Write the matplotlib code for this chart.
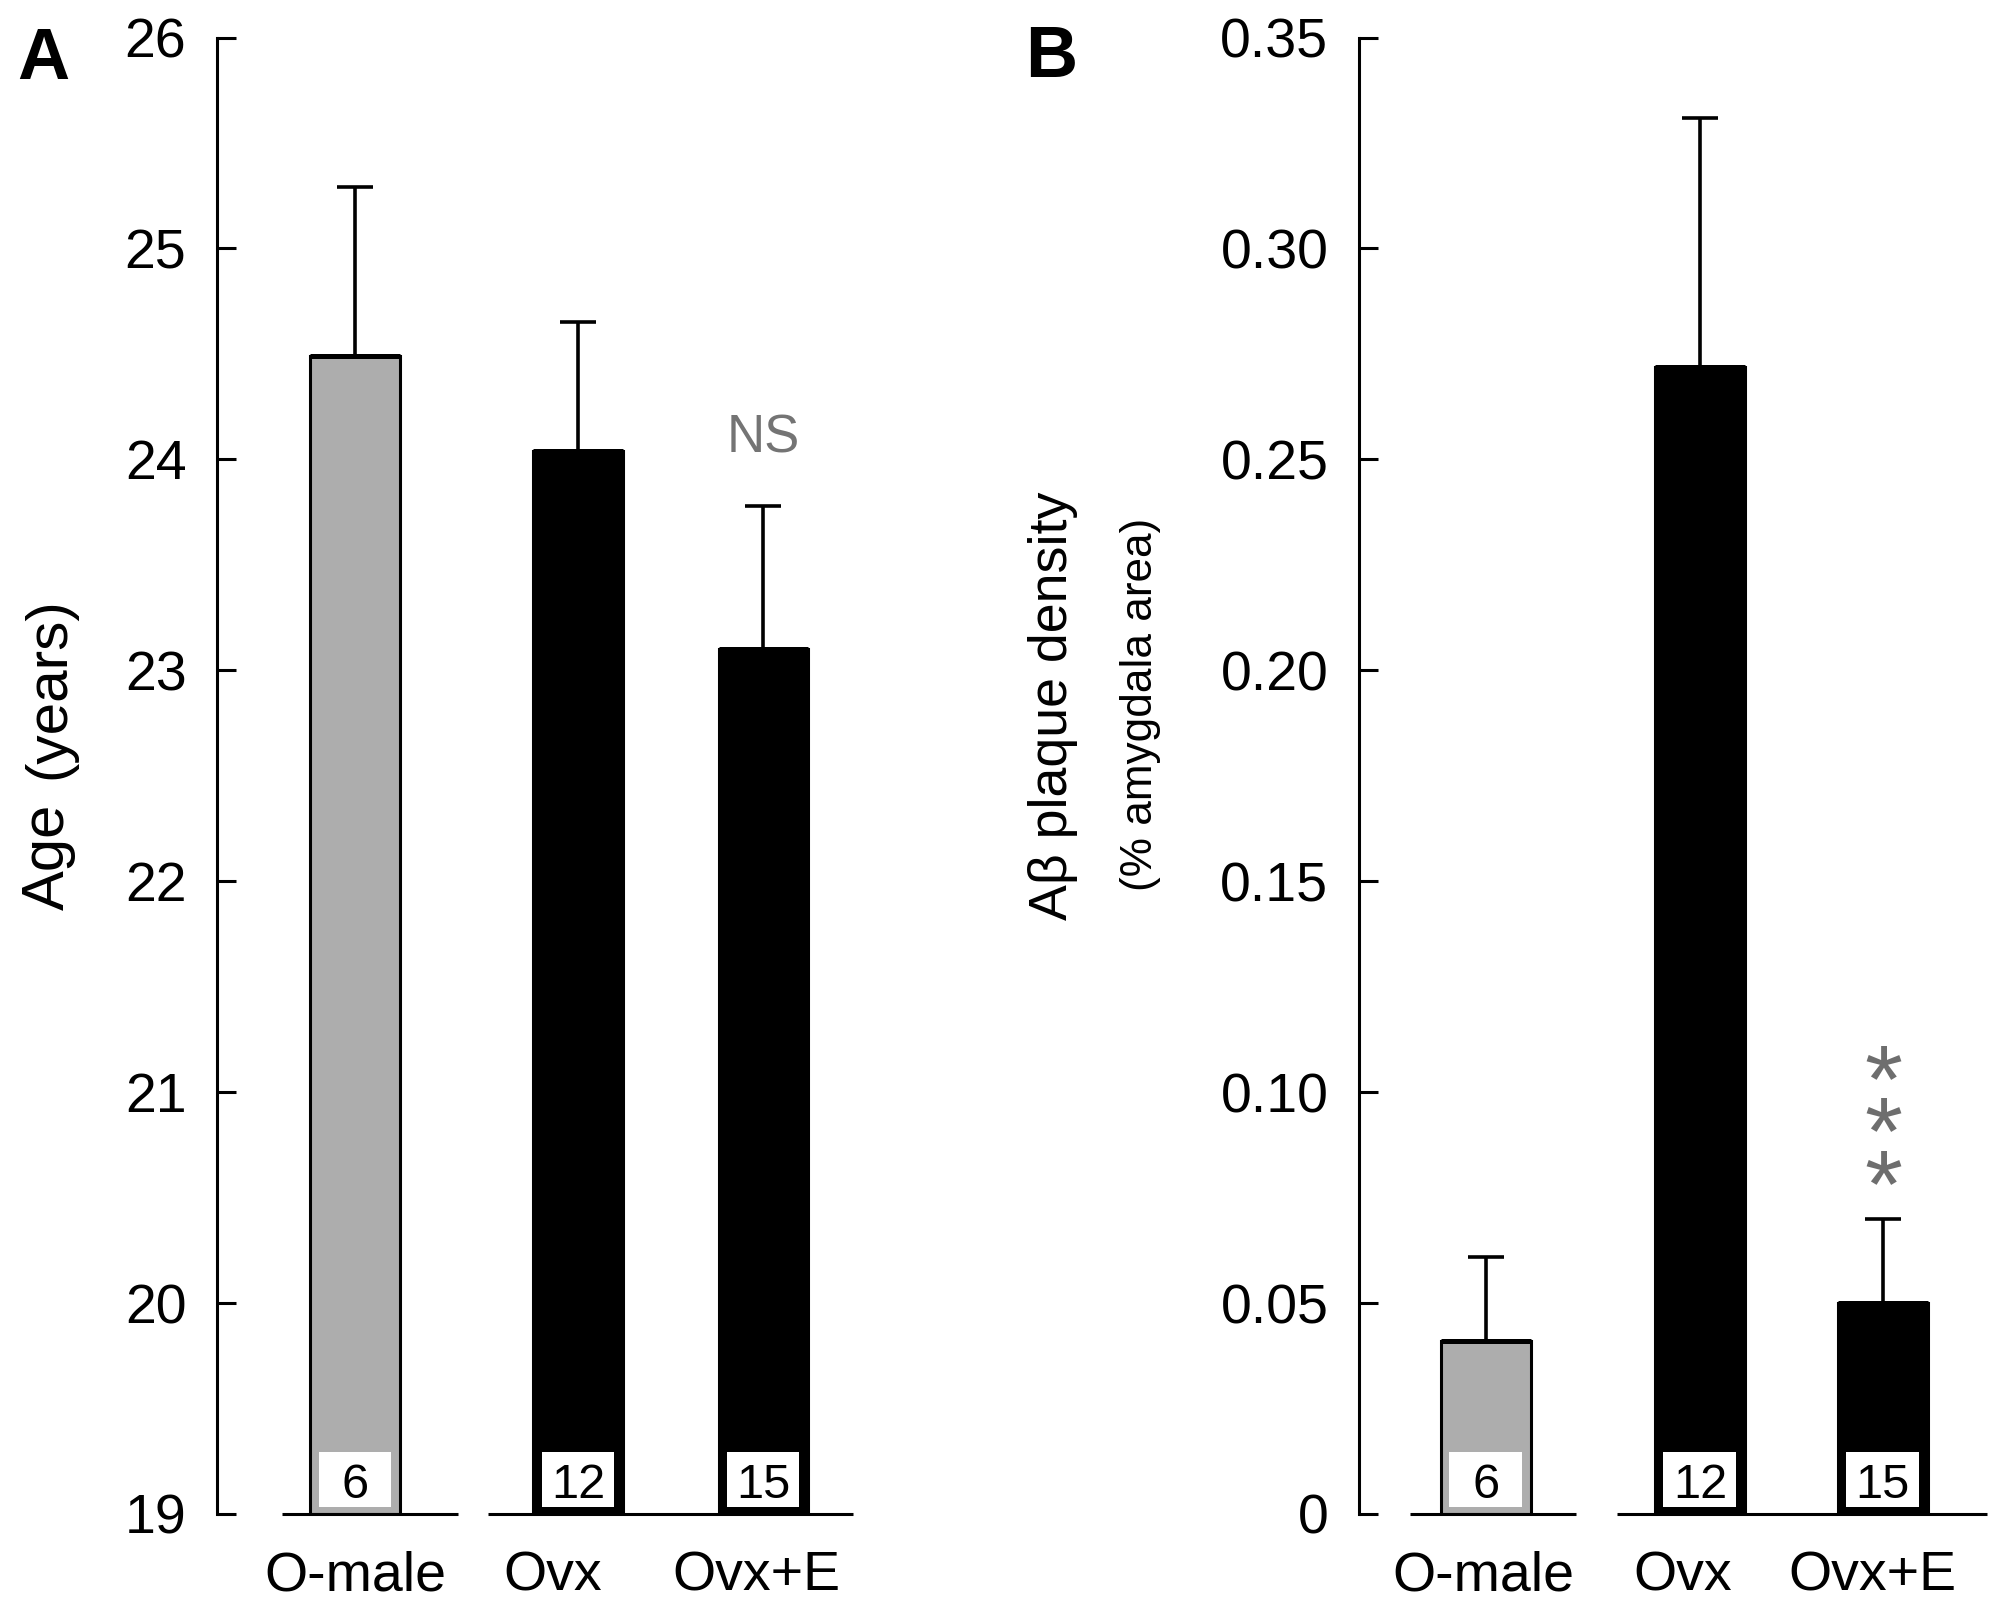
import matplotlib
matplotlib.use('Agg')
import matplotlib.pyplot as plt
from matplotlib import font_manager
from matplotlib.transforms import blended_transform_factory
from matplotlib.patches import Rectangle

plt.rcParams['font.family'] = ['Liberation Sans', 'DejaVu Sans']

# data
groups = ['O-male', 'Ovx', 'Ovx+E']
n_animals = [6, 12, 15]
bar_colors = ['#adadad', 'black', 'black']

age_mean = [24.49, 24.04, 23.10]
age_sem = [0.80, 0.61, 0.68]
age_ticks = [19, 20, 21, 22, 23, 24, 25, 26]
age_ticklabels = ['19', '20', '21', '22', '23', '24', '25', '26']

plaque_mean = [0.041, 0.272, 0.050]
plaque_sem = [0.020, 0.059, 0.020]
plaque_ticks = [0, 0.05, 0.10, 0.15, 0.20, 0.25, 0.30, 0.35]
plaque_ticklabels = ['0', '0.05', '0.10', '0.15', '0.20', '0.25', '0.30', '0.35']

# condensed face for the axis titles, if it is there
names = {f.name for f in font_manager.fontManager.ttflist}
has_narrow = 'Liberation Sans Narrow' in names
narrow = 'Liberation Sans Narrow' if has_narrow else 'Liberation Sans'
shrink = 1.0 if has_narrow else 0.86

W, H = 1995, 1603
fig = plt.figure(figsize=(W / 100, H / 100), dpi=100)
fig.patch.set_facecolor('white')

def fx(px):
  return px / W

def fy(py):
  return 1 - py / H

bottom = fy(1514)
height = (1514 - 37.5) / H


def draw_panel(ax, means, sems, bar_x, width, label_x, segments, ylim, ticks, ticklabels):
  '''one bar panel'''
  ax.bar(bar_x, [m - ylim[0] for m in means], bottom=ylim[0], width=width,
         color=bar_colors, edgecolor='black', linewidth=2.2, zorder=2)
  # heavier top edge
  ax.hlines(means, [x - width / 2 for x in bar_x], [x + width / 2 for x in bar_x],
            color='black', lw=3.6, zorder=3)
  ax.errorbar(bar_x, means, yerr=[[0] * len(sems), sems], fmt='none',
              ecolor='black', elinewidth=2.6, capsize=13, capthick=2.6, zorder=3)
  # white count boxes at the foot of each bar
  trans = blended_transform_factory(ax.transData, ax.transAxes)
  bw = width * 0.81
  for x, n in zip(bar_x, n_animals):
    ax.add_patch(Rectangle((x - bw / 2, 0.0047), bw, 0.0373, transform=trans,
                           facecolor='white', edgecolor='none', zorder=4))
    ax.text(x, 0.0108, str(n), transform=trans, ha='center', va='baseline',
            fontsize=35, zorder=5)
  # broken baseline
  for a, b in segments:
    ax.plot([a, b], [ylim[0], ylim[0]], color='black', lw=2.2,
            clip_on=False, zorder=3, solid_capstyle='butt')
  ax.set_ylim(*ylim)
  ax.set_yticks(ticks)
  ax.set_yticklabels(ticklabels, fontsize=40)
  ax.set_xticks(label_x)
  ax.set_xticklabels(groups, fontsize=40)
  for s in ['top', 'right', 'bottom']:
    ax.spines[s].set_visible(False)
  ax.spines['left'].set_linewidth(2.2)
  ax.tick_params(axis='y', direction='in', length=14, width=2.2, pad=22)
  ax.tick_params(axis='x', length=0, pad=26)
  ax.set_facecolor('none')


# panel A
axA = fig.add_axes([fx(217), bottom, fx(880 - 217), height])
axA.set_xlim(-0.619, 2.354)
draw_panel(axA, age_mean, age_sem, [0, 1, 1.83], 0.40, [0, 0.888, 1.80],
           [(-0.327, 0.462), (0.596, 2.233)], (19, 26), age_ticks, age_ticklabels)
axA.annotate('NS', xy=(1.83, age_mean[2] + age_sem[2]), xytext=(0, 38),
             textcoords='offset points', ha='center', va='baseline',
             fontsize=38, color='#747474')

# panel B
axB = fig.add_axes([fx(1359), bottom, fx(W - 1359), height])
axB.set_xlim(-0.593, 2.379)
draw_panel(axB, plaque_mean, plaque_sem, [0, 1, 1.855], 0.42, [-0.014, 0.921, 1.804],
           [(-0.355, 0.421), (0.612, 2.341)], (0, 0.35), plaque_ticks, plaque_ticklabels)
axB.annotate('*\n*\n*', xy=(1.855, plaque_mean[2] + plaque_sem[2]), xytext=(0, -13.5),
             textcoords='offset points', ha='center', va='bottom', ma='center',
             fontsize=70, linespacing=0.47, color='#6e6e6e')

# axis titles
fig.text(fx(64), fy(910), 'Age', rotation=90, rotation_mode='anchor',
         ha='left', va='baseline', fontsize=50 * shrink, family=[narrow, 'DejaVu Sans'])
fig.text(fx(64), fy(597), '(years)', rotation=90, rotation_mode='anchor',
         ha='right', va='baseline', fontsize=42)
fig.text(fx(1067), fy(706), 'A\u03b2 plaque density', rotation=90, rotation_mode='anchor',
         ha='center', va='baseline', fontsize=45 * shrink, family=[narrow, 'DejaVu Sans'])
fig.text(fx(1152), fy(704), '(% amygdala area)', rotation=90, rotation_mode='anchor',
         ha='center', va='baseline', fontsize=37 * shrink, family=[narrow, 'DejaVu Sans'])

# panel letters
fig.text(fx(17), fy(79), 'A', fontsize=52, fontweight='bold', ha='left', va='baseline')
fig.text(fx(1025), fy(77), 'B', fontsize=52, fontweight='bold', ha='left', va='baseline')

fig.savefig('out.png', dpi=100, facecolor='white')
